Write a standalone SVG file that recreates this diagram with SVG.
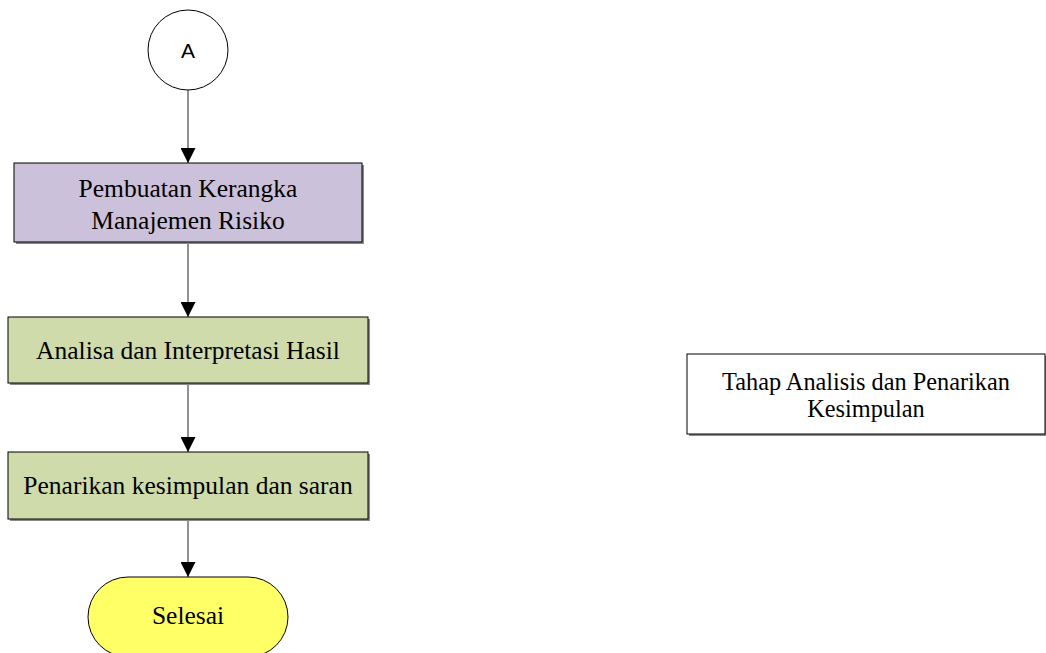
<svg xmlns="http://www.w3.org/2000/svg" width="1046" height="653" viewBox="0 0 1046 653">
<defs>
<style>
.t{font-family:"Liberation Sans","Times New Roman",serif;font-size:25.5px;fill:#000;text-anchor:middle}
.t{font-family:"Liberation Serif","Times New Roman",serif}
.r{font-size:24.3px}
.s{fill:#8a8a8a}
.b{stroke:#000;stroke-width:1}
.c{stroke:#6e6e6e;stroke-width:1.5;fill:none}
</style>
<marker id="ah" viewBox="0 0 10 10" refX="10" refY="5" markerWidth="15" markerHeight="15" markerUnits="userSpaceOnUse" orient="auto">
<path d="M0,0 L10,5 L0,10 Z" fill="#000"/>
</marker>
</defs>
<rect width="1046" height="653" fill="#fff"/>
<g id="connectors">
<line class="c" x1="188" y1="90" x2="188" y2="163" marker-end="url(#ah)"/>
<line class="c" x1="188" y1="242" x2="188" y2="317" marker-end="url(#ah)"/>
<line class="c" x1="188" y1="383" x2="188" y2="452" marker-end="url(#ah)"/>
<line class="c" x1="188" y1="519" x2="188" y2="577" marker-end="url(#ah)"/>
</g>
<g id="nodeA">
<circle cx="188" cy="50" r="40" fill="#fff" stroke="#000" stroke-width="1"/>
<text x="188" y="58" font-family="Liberation Sans,Arial,sans-serif" font-size="21" text-anchor="middle">A</text>
</g>
<g id="kerangka">
<rect class="s" x="16" y="165" width="348" height="79"/>
<rect class="b" x="14" y="163" width="348" height="79" fill="#ccc1da"/>
<text class="t" x="188" y="197">Pembuatan Kerangka</text>
<text class="t" x="188" y="229">Manajemen Risiko</text>
</g>
<g id="analisa">
<rect class="s" x="10" y="319" width="360" height="66"/>
<rect class="b" x="8" y="317" width="360" height="66" fill="#cfdbaa"/>
<text class="t" x="188" y="359">Analisa dan Interpretasi Hasil</text>
</g>
<g id="penarikan">
<rect class="s" x="10" y="454" width="360" height="67"/>
<rect class="b" x="8" y="452" width="360" height="67" fill="#cfdbaa"/>
<text class="t" x="188" y="494">Penarikan kesimpulan dan saran</text>
</g>
<g id="selesai">
<rect x="88" y="577" width="200" height="80" rx="40" ry="40" fill="#ffff66" stroke="#000" stroke-width="1"/>
<text class="t" x="188" y="624">Selesai</text>
</g>
<g id="tahap">
<rect class="s" x="689" y="356" width="358" height="80"/>
<rect class="b" x="687" y="354" width="358" height="80" fill="#fff"/>
<text class="t r" x="866" y="390">Tahap Analisis dan Penarikan</text>
<text class="t r" x="866" y="417">Kesimpulan</text>
</g>
</svg>
